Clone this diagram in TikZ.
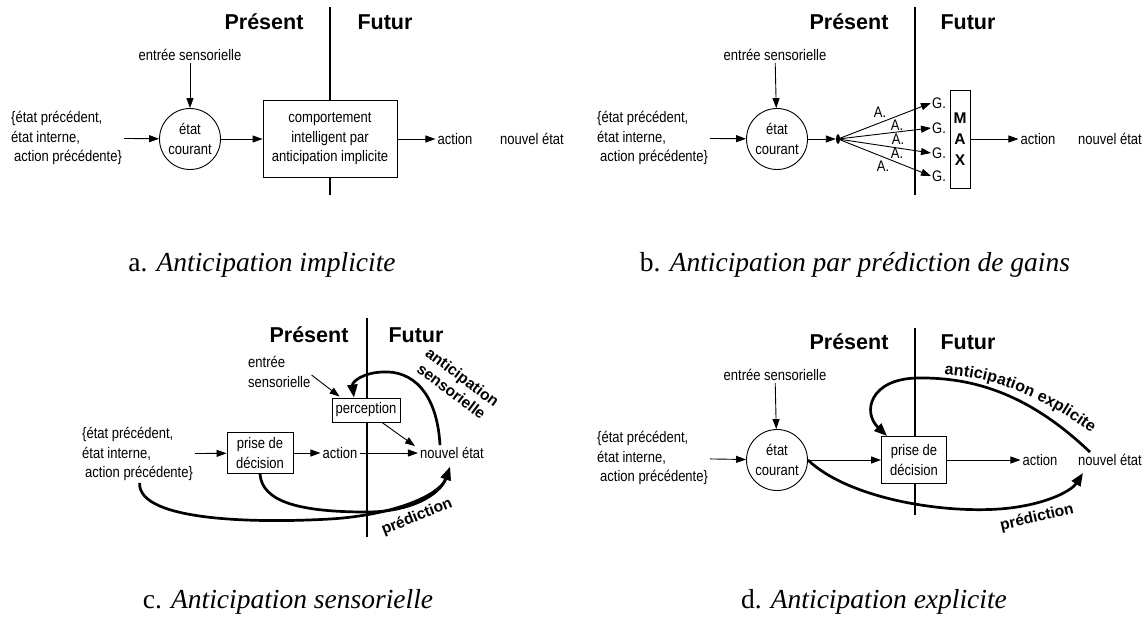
\documentclass[tikz,border=0pt]{standalone}
\usepackage{fontspec}
\setmainfont{Liberation Serif}
\setsansfont{Liberation Sans}
\newfontfamily\etroit[FakeStretch=0.85]{Liberation Sans}
\newcommand\etiqfont{\sffamily\bfseries\fontsize{16}{18}\selectfont}
\usetikzlibrary{arrows.meta,shapes.geometric,decorations.text}

\tikzset{
  txt/.style={font=\etroit\fontsize{15.3}{19.5}\selectfont, inner sep=2pt, align=center},
  titre/.style={font=\sffamily\bfseries\fontsize{21.5}{24}\selectfont, inner sep=0pt},
  legende/.style={font=\rmfamily\fontsize{27.5}{32}\selectfont, inner sep=0pt},
  etiq/.style={font=\sffamily\bfseries\fontsize{15.5}{18}\selectfont, inner sep=0pt, align=center},
  etat/.style={txt, draw, circle, minimum size=61pt, inner sep=0pt, fill=white, line width=0.9pt},
  boite/.style={txt, draw, fill=white, line width=0.9pt},
  entree/.style={txt, anchor=west, align=left},
  axe/.style={line width=1.3pt},
  fl/.style={line width=0.9pt, -{Triangle[length=10pt,width=7pt]}},
  epais/.style={line width=2.7pt, -{Triangle[length=13pt,width=10pt]}},
}

\begin{document}
\begin{tikzpicture}[x=1pt,y=-1pt]
            \useasboundingbox (0,0) rectangle (1147,619);%

            % Drawing panel a
            \draw[axe] (330,7) -- (330,195);%
            \node[titre] (pra) at (264,22) {Présent};%
            \node[titre] (fua) at (385,22) {Futur};%
            \node[txt] (sea) at (190,55) {entrée sensorielle};%
            \node[entree] (ina) at (9,138) {\{état précédent,\\état interne,\\\hspace*{3pt}action précédente\}};%
            \node[etat] (eca) at (190,139) {état\\courant};%
            \node[boite, minimum width=134pt, minimum height=77pt] (coa) at (330,139) {comportement\\intelligent par\\anticipation implicite};%
            \node[txt] (aca) at (455,139) {action};%
            \node[txt] (nea) at (532,139) {nouvel état};%
            \draw[fl] (sea) -- (eca);%
            \draw[fl] (ina) -- (eca);%
            \draw[fl] (eca) -- (coa);%
            \draw[fl] (coa) -- (aca);%
            \node[legende] (lga) at (262,265) {a. \textit{Anticipation implicite}};%

            % Drawing panel b
            \draw[axe] (915,7) -- (915,195);%
            \node[titre] (prb) at (849,22) {Présent};%
            \node[titre] (fub) at (968,22) {Futur};%
            \node[txt] (seb) at (775,55) {entrée sensorielle};%
            \node[entree] (inb) at (595,138) {\{état précédent,\\état interne,\\\hspace*{3pt}action précédente\}};%
            \node[etat] (ecb) at (777,139) {état\\courant};%
            \node[ellipse, fill, minimum width=4pt, minimum height=10pt, inner sep=0pt] (ptb) at (838,139) {};%
            \draw[fl] (seb) -- (ecb);%
            \draw[fl] (inb) -- (ecb);%
            \draw[fl] (ecb) -- (ptb);%
            \foreach \y [count=\i] in {103,128,153,176} {%
              \node[txt, anchor=west, inner sep=1pt] (g\i) at (931,\y) {G.};%
              \draw[fl] (ptb.center) -- (g\i.west);%
            }
            \foreach \x/\y [count=\i] in {880/112,897/125,898/139,897/153,883/166}
              \node[txt, inner sep=0pt] (a\i) at (\x,\y) {A.};%
            \node[boite, font=\sffamily\bfseries\fontsize{15.5}{21}\selectfont, minimum width=20pt, minimum height=98pt, inner sep=0pt] (mxb) at (960,139) {M\\A\\X};%
            \node[txt] (acb) at (1038,139) {action};%
            \node[txt] (neb) at (1110,139) {nouvel état};%
            \draw[fl] (mxb) -- (acb);%
            \node[legende] (lgb) at (855,265) {b. \textit{Anticipation par prédiction de gains}};%

            % Drawing panel c
            \draw[axe] (367,318) -- (367,537);%
            \node[titre] (prc) at (309,335) {Présent};%
            \node[titre] (fuc) at (416,335) {Futur};%
            \node[entree, inner sep=1pt] (sec) at (247,372) {entrée\\sensorielle};%
            \node[entree] (inc) at (80,454) {\{état précédent,\\état interne,\\\hspace*{3pt}action précédente\}};%
            \node[boite, minimum width=68pt, minimum height=24pt] (pec) at (366,410) {perception};%
            \node[boite, minimum width=66pt, minimum height=41pt] (dec) at (260,453) {prise de\\décision};%
            \node[txt] (acc) at (340,453) {action};%
            \node[txt] (nec) at (452,453) {nouvel état};%
            \draw[fl] (inc) -- (dec);%
            \draw[fl] (dec) -- (acc);%
            \draw[fl] (acc) -- (nec);%
            \draw[fl] ([yshift=-3pt]sec.east) -- ([xshift=8pt,yshift=1pt]pec.north west);%
            \draw[fl] ([xshift=16pt]pec.south) -- ([xshift=-3pt,yshift=-1pt]nec.north west);%
            \draw[epais] ([xshift=-12pt]nec.north) .. controls (437,392) and (412,370) .. (382,372) .. controls (362,373) and (352,382) .. ([xshift=-12pt]pec.north);%
            \draw[epais] ([xshift=2pt]inc.south) .. controls (138,522) and (260,523) .. (330,519) .. controls (395,515) and (440,495) .. ([xshift=-2pt,yshift=-6pt]nec.south);%
            \draw[epais] (dec.south) .. controls (262,502) and (300,512) .. (367,512) .. controls (410,512) and (440,495) .. ([xshift=-2pt,yshift=-6pt]nec.south);%
            \node[etiq, rotate=-37] (asc) at (457,384) {anticipation\\sensorielle};%
            \node[etiq, rotate=22] (prdc) at (417,517) {prédiction};%
            \node[legende] (lgc) at (288,602) {c. \textit{Anticipation sensorielle}};%

            % Drawing panel d
            \draw[axe] (915,328) -- (915,515);%
            \node[titre] (prd) at (849,342) {Présent};%
            \node[titre] (fud) at (968,342) {Futur};%
            \node[txt] (sed) at (775,375) {entrée sensorielle};%
            \node[entree] (ind) at (595,458) {\{état précédent,\\état interne,\\\hspace*{3pt}action précédente\}};%
            \node[etat] (ecd) at (777,460) {état\\courant};%
            \node[boite, minimum width=65pt, minimum height=47pt] (ded) at (914,460) {prise de\\décision};%
            \node[txt] (acd) at (1040,460) {action};%
            \node[txt] (ned) at (1110,460) {nouvel état};%
            \draw[fl] (sed) -- (ecd);%
            \draw[fl] (ind) -- (ecd);%
            \draw[fl] (ecd) -- (ded);%
            \draw[fl] (ded) -- (acd);%
            \draw[epais] ([xshift=-20pt]ned.north) .. controls (1030,395) and (975,377) .. (917,378) .. controls (870,379) and (862,412) .. ([xshift=6pt]ded.north west);%
            \draw[epais] (ecd.east) .. controls (850,500) and (950,515) .. (1010,508) .. controls (1050,503) and (1072,490) .. ([xshift=-27pt,yshift=-5pt]ned.south);%
            % Marking anticipation explicite along the curve
            \path[decorate, decoration={text along path, text={|\etiqfont|anticipation explicite}, text align=center, raise=4pt}] (930,378) .. controls (985,378) and (1040,397) .. (1100,445);%
            \node[etiq, rotate=13] (prdd) at (1037,518) {prédiction};%
            \node[legende] (lgd) at (874,602) {d. \textit{Anticipation explicite}};%

\end{tikzpicture}
\end{document}
